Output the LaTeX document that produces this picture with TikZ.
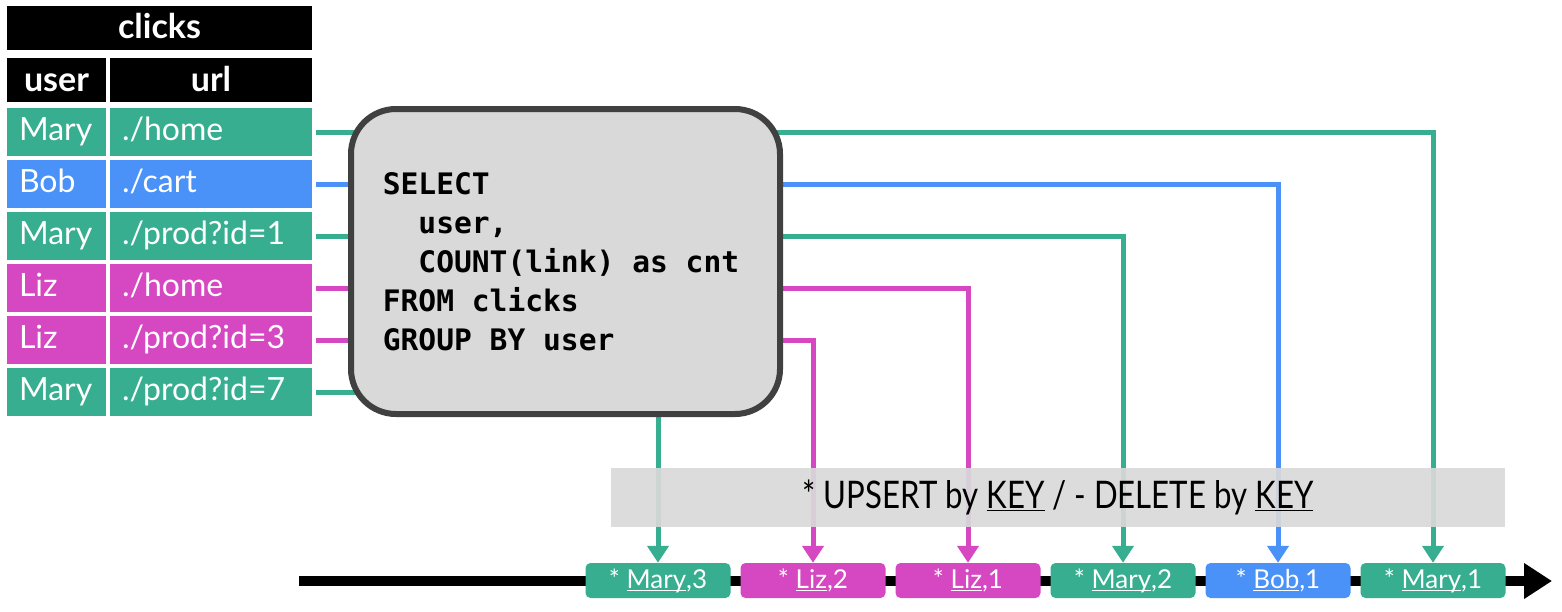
\documentclass[tikz,border=0pt]{standalone}
\usepackage{fontspec}
\setmainfont{Lato}
\setmonofont{DejaVu Sans Mono}
\newfontfamily\bannerfont[FakeStretch=0.82]{Lato}
\usetikzlibrary{arrows.meta}
\definecolor{clickgreen}{RGB}{54,174,143}
\definecolor{clickblue}{RGB}{74,145,248}
\definecolor{clickpink}{RGB}{214,71,194}
\definecolor{boxgray}{RGB}{217,217,217}
\definecolor{boxedge}{RGB}{64,64,64}
\newcommand{\keyline}[1]{\underline{\smash{#1}}}
\begin{document}
\begin{tikzpicture}[x=1pt,y=-1pt,
  cell/.style={rectangle,inner xsep=12pt,inner ysep=0pt,minimum height=48pt,text height=23pt,text depth=7pt,text=white,font=\fontsize{32}{32}\selectfont},
  usercell/.style={cell,text width=75pt,align=left},
  urlcell/.style={cell,text width=178pt,align=left},
  headcell/.style={rectangle,fill=black,text=white,inner sep=0pt,minimum height=44pt,text height=25pt,text depth=3pt,font=\fontsize{34}{34}\selectfont\bfseries},
  flow/.style={line width=5pt,shorten <=4pt,-{Triangle[length=17pt,width=21pt]}},
  event/.style={rectangle,rounded corners=5pt,minimum width=145pt,minimum height=35pt,inner sep=0pt,text=white,font=\fontsize{26}{26}\selectfont}]
  \useasboundingbox (0,0) rectangle (1562,611);
  \node[headcell,minimum width=305pt] (T) at (159.5,27.5) {clicks};
  \node[headcell,minimum width=99pt] (H0) at (56.5,80) {user};
  \node[headcell,minimum width=202pt] (H1) at (211,80) {url};
  \node[usercell,fill=clickgreen] (U0) at (56.5,132) {Mary};
  \node[urlcell,fill=clickgreen] (R0) at (211,132) {./home};
  \node[usercell,fill=clickblue] (U1) at (56.5,184) {Bob};
  \node[urlcell,fill=clickblue] (R1) at (211,184) {./cart};
  \node[usercell,fill=clickgreen] (U2) at (56.5,236) {Mary};
  \node[urlcell,fill=clickgreen] (R2) at (211,236) {./prod?id=1};
  \node[usercell,fill=clickpink] (U3) at (56.5,288) {Liz};
  \node[urlcell,fill=clickpink] (R3) at (211,288) {./home};
  \node[usercell,fill=clickpink] (U4) at (56.5,340) {Liz};
  \node[urlcell,fill=clickpink] (R4) at (211,340) {./prod?id=3};
  \node[usercell,fill=clickgreen] (U5) at (56.5,392) {Mary};
  \node[urlcell,fill=clickgreen] (R5) at (211,392) {./prod?id=7};
  \coordinate (L0) at (299,581);
  \coordinate (L1) at (1552,581);
  \draw[line width=10pt,-{Triangle[length=28pt,width=34pt]}] (L0) -- (L1);
  \node[event,fill=clickgreen] (E0) at (658,580.5) {* \keyline{Mary},3};
  \node[event,fill=clickpink] (E1) at (813,580.5) {* \keyline{Liz},2};
  \node[event,fill=clickpink] (E2) at (968,580.5) {* \keyline{Liz},1};
  \node[event,fill=clickgreen] (E3) at (1123,580.5) {* \keyline{Mary},2};
  \node[event,fill=clickblue] (E4) at (1278,580.5) {* \keyline{Bob},1};
  \node[event,fill=clickgreen] (E5) at (1433,580.5) {* \keyline{Mary},1};
  \draw[flow,clickgreen] (R0.east) -- (R0.east -| E5.north) -- (E5.north);
  \draw[flow,clickblue] (R1.east) -- (R1.east -| E4.north) -- (E4.north);
  \draw[flow,clickgreen] (R2.east) -- (R2.east -| E3.north) -- (E3.north);
  \draw[flow,clickpink] (R3.east) -- (R3.east -| E2.north) -- (E2.north);
  \draw[flow,clickpink] (R4.east) -- (R4.east -| E1.north) -- (E1.north);
  \draw[flow,clickgreen] (R5.east) -- (R5.east -| E0.north) -- (E0.north);
  \node[rectangle,rounded corners=45pt,draw=boxedge,line width=6pt,fill=boxgray,minimum width=429pt,minimum height=305pt,align=left,font=\fontsize{29.6}{39}\selectfont\ttfamily\bfseries] (Q) at (565.5,261.5) {SELECT\\\ \ user,\\\ \ COUNT(link) as cnt\rule{9pt}{0pt}\\FROM clicks\\GROUP BY user};
  \node[rectangle,fill=boxgray,fill opacity=0.93,text opacity=1,minimum width=894pt,minimum height=59pt,inner sep=0pt,font=\fontsize{38}{38}\selectfont\bannerfont] (B) at (1058,497.5) {* UPSERT by \keyline{KEY} / - DELETE by \keyline{KEY}};
\end{tikzpicture}
\end{document}
